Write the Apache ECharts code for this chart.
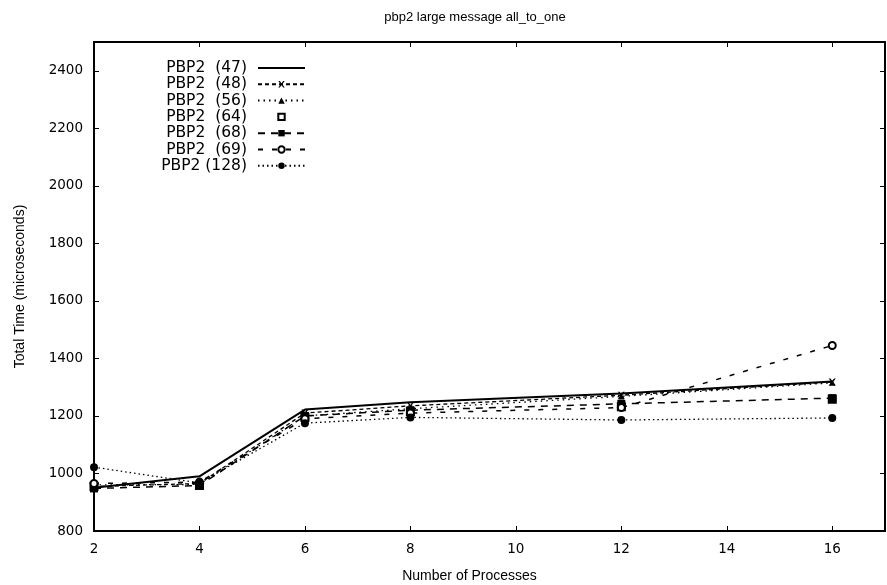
<!DOCTYPE html>
<html><head><meta charset="utf-8">
<script src="https://cdn.jsdelivr.net/npm/echarts@6/dist/echarts.min.js"></script>
<style>html,body{margin:0;padding:0;background:#fff}#c{width:887px;height:585px}</style>
</head><body><div id="c"></div>
<script>
const processes = [2, 4, 6, 8, 12, 16];
const seriesNames = ['PBP2  (47)', 'PBP2  (48)', 'PBP2  (56)', 'PBP2  (64)', 'PBP2  (68)', 'PBP2  (69)', 'PBP2 (128)'];
const s47  = [950, 990, 1222, 1248, 1278, 1320];
const s48  = [955, 965, 1210, 1235, 1272, 1318];
const s56  = [960, 962, 1200, 1225, 1268, 1315];
const s64  = [955, 958, 1195, 1215, 1232, 1258];
const s68  = [948, 958, 1200, 1220, 1242, 1262];
const s69  = [965, 970, 1190, 1210, 1229, 1445];
const s128 = [1022, 967, 1175, 1195, 1186, 1193];
const yTicks = [800, 1000, 1200, 1400, 1600, 1800, 2000, 2200, 2400];
const xTicks = [2, 4, 6, 8, 10, 12, 14, 16];

const allValues = [s47, s48, s56, s64, s68, s69, s128];
const styles = [
  {symbol: 'path://M0,4L8,4M4,0L4,8', size: 5, dash: 'solid', width: 2, show: true},
  {symbol: 'path://M0,0L2,0L4,3L6,0L8,0L5,4L8,8L6,8L4,5L2,8L0,8L3,4Z', size: 7, dash: [4, 3], width: 1.3, show: true},
  {symbol: 'triangle', size: 6, dash: [1.5, 4], width: 1.3, show: true},
  {symbol: 'emptyRect', size: 7, dash: 'solid', width: 1, show: false},
  {symbol: 'rect', size: 8, dash: [7, 6], width: 1.5, show: true},
  {symbol: 'emptyCircle', size: 7, dash: [5, 9], width: 1.5, show: true},
  {symbol: 'circle', size: 8, dash: [1.5, 3], width: 1.3, show: true}
];

const font = 'Liberation Sans, Arial, sans-serif';
const dfont = 'DejaVu Sans, sans-serif';
const series = allValues.map((vals, i) => ({
  name: seriesNames[i],
  type: 'line',
  data: processes.map((p, j) => [p, vals[j]]),
  symbol: styles[i].symbol,
  symbolSize: styles[i].size,
  showAllSymbol: true,
  z: i === 0 ? 10 : 5,
  itemStyle: {color: '#000', borderColor: '#000', borderWidth: styles[i].symbol.startsWith('empty') ? 1.5 : 0},
  lineStyle: {color: '#000', width: styles[i].width, type: styles[i].dash, opacity: styles[i].show ? 1 : 0},
  emphasis: {disabled: true},
  animation: false
}));

const chart = echarts.init(document.getElementById('c'));
chart.setOption({
  backgroundColor: '#fff',
  animation: false,
  title: {
    text: 'pbp2 large message all_to_one',
    left: 470, top: 6, textAlign: 'center',
    textStyle: {fontFamily: font, fontSize: 13, fontWeight: 'normal', color: '#000'}
  },
  legend: {
    orient: 'vertical', left: 147, top: 55,
    align: 'right', itemWidth: 47, itemHeight: 8, itemGap: 0.3,
    textStyle: {fontFamily: dfont, fontSize: 15.5, lineHeight: 16, color: '#000', width: 95, align: 'right', padding: [0, 6, 0, 0]},
    data: seriesNames
  },
  grid: {left: 94, right: 2, top: 42, bottom: 54, containLabel: false, outerBoundsMode: 'none'},
  xAxis: [{
    type: 'value', min: 2, max: 17, interval: 2,
    name: 'Number of Processes', nameLocation: 'middle', nameGap: 38,
    nameTextStyle: {fontFamily: font, fontSize: 14, color: '#000', padding: [0, 40, 0, 0]},
    axisLine: {show: true, lineStyle: {color: '#000', width: 2}},
    axisTick: {show: true, inside: true, length: 5, lineStyle: {color: '#000'}},
    axisLabel: {fontFamily: dfont, fontSize: 13.5, color: '#000', margin: 11, showMaxLabel: false},
    splitLine: {show: false}
  }, {
    type: 'value', position: 'top', min: 2, max: 17, interval: 2,
    axisLine: {show: true, lineStyle: {color: '#000', width: 2}},
    axisTick: {show: true, inside: true, length: 5, lineStyle: {color: '#000'}},
    axisLabel: {show: false}, splitLine: {show: false}
  }],
  yAxis: [{
    type: 'value', min: 800, max: 2500, interval: 200,
    name: 'Total Time (microseconds)', nameLocation: 'middle', nameGap: 67, nameRotate: 90,
    nameTextStyle: {fontFamily: font, fontSize: 14, color: '#000'},
    axisLine: {show: true, lineStyle: {color: '#000', width: 2}},
    axisTick: {show: true, inside: true, length: 5, lineStyle: {color: '#000'}},
    axisLabel: {fontFamily: dfont, fontSize: 13.5, color: '#000', margin: 11, showMaxLabel: false, formatter: v => String(v)},
    splitLine: {show: false}
  }, {
    type: 'value', position: 'right', min: 800, max: 2500, interval: 200,
    axisLine: {show: true, lineStyle: {color: '#000', width: 2}},
    axisTick: {show: true, inside: true, length: 5, lineStyle: {color: '#000'}},
    axisLabel: {show: false}, splitLine: {show: false}
  }],
  series: series
});
</script>
</body></html>
